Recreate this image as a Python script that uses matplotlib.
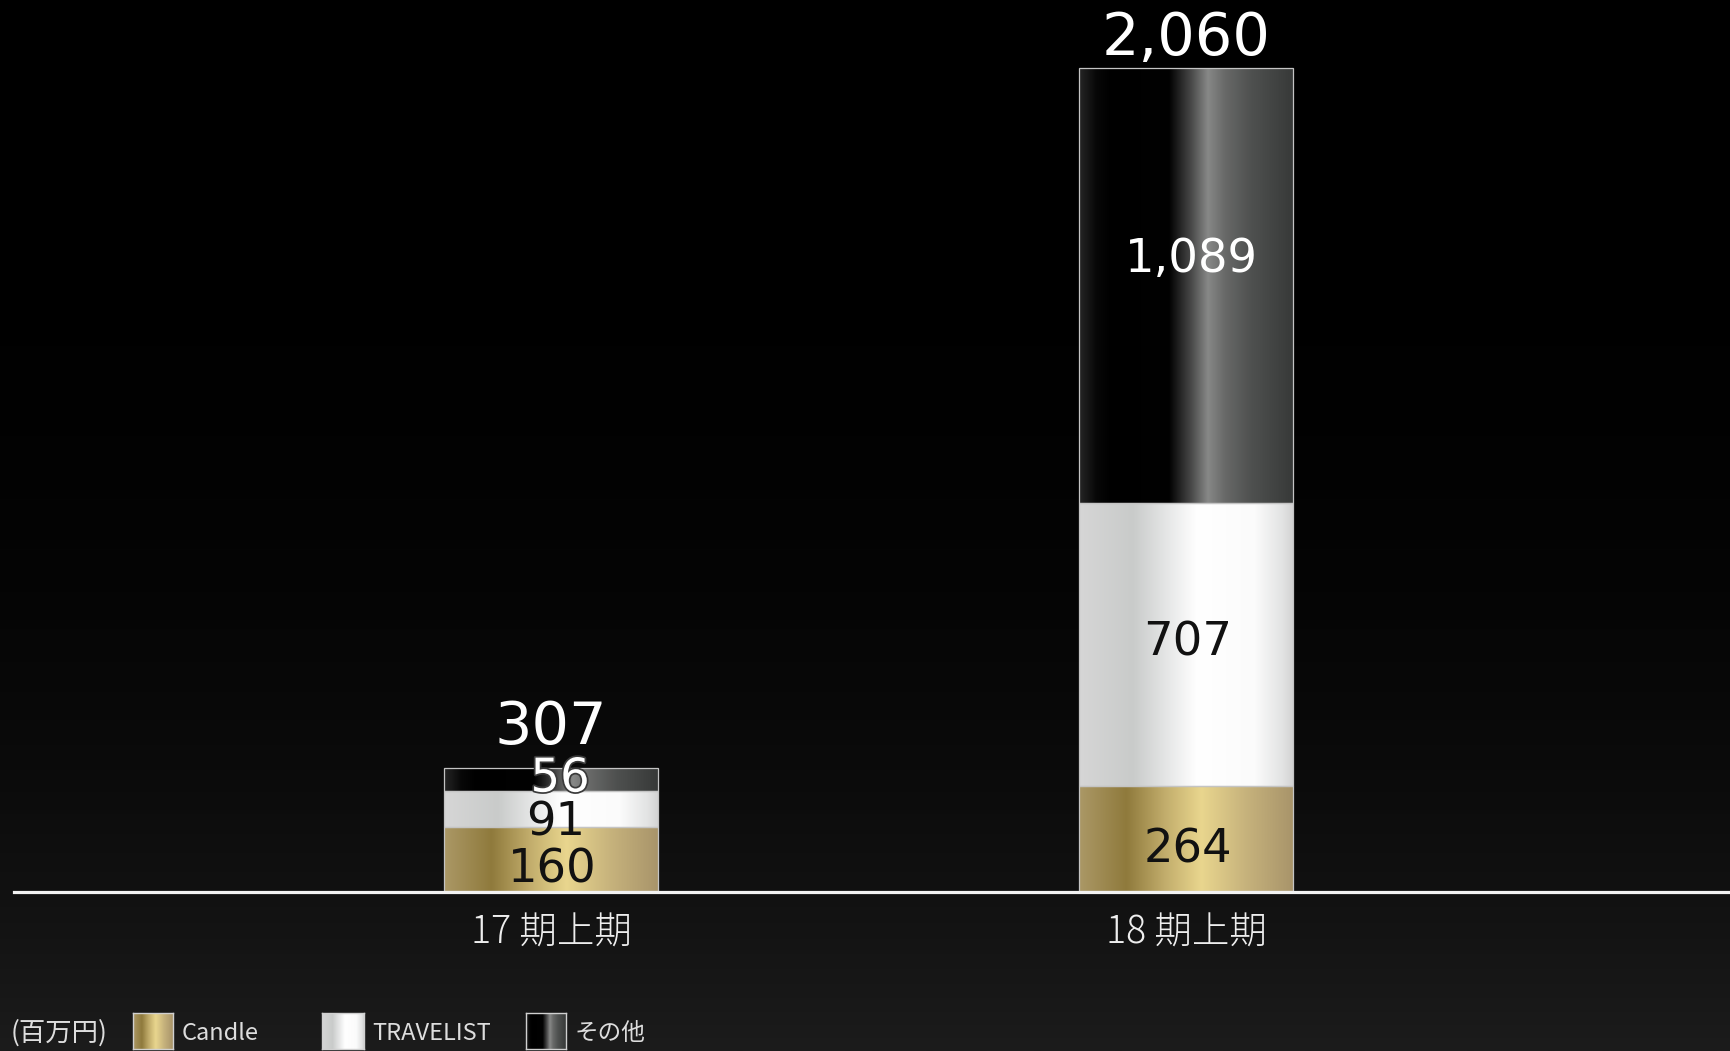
import numpy as np
import matplotlib
matplotlib.use("Agg")
import matplotlib.pyplot as plt
import matplotlib.patheffects as pe
from matplotlib.colors import LinearSegmentedColormap
from matplotlib.transforms import blended_transform_factory

# ---- data (百万円) ----
periods = ["17 期上期", "18 期上期"]
series_names = ["Candle", "TRAVELIST", "その他"]
candle = [160, 264]
travelist = [91, 707]
other = [56, 1089]
totals = [307, 2060]
unit_label = "(百万円)"

W, H = 1731, 1051
fig = plt.figure(figsize=(W / 100, H / 100), dpi=100)
fig.patch.set_facecolor("black")

CJK = ["Noto Sans CJK JP", "DejaVu Sans"]
NUM = ["DejaVu Sans"]

# ---- background: black at the top fading to dark grey at the bottom ----
t = np.linspace(0, 1, H)
shade = (28 * t ** 3) / 255.0
bg_img = np.repeat(shade[:, None, None], 3, axis=2)
bg = fig.add_axes([0, 0, 1, 1], zorder=-10)
bg.imshow(bg_img, aspect="auto", extent=(0, 1, 0, 1), interpolation="bilinear")
bg.set_axis_off()

# ---- metallic gradients for the three series ----
gold = LinearSegmentedColormap.from_list("gold", [
    (0.00, "#ab9866"), (0.22, "#8f7a3c"), (0.40, "#c2ad6c"),
    (0.57, "#e9d68e"), (0.78, "#c6b27c"), (1.00, "#a8946a")])
silver = LinearSegmentedColormap.from_list("silver", [
    (0.00, "#d6d6d6"), (0.25, "#c9cbca"), (0.40, "#e4e5e5"),
    (0.55, "#ffffff"), (0.82, "#fbfbfb"), (0.95, "#e2e3e3"), (1.00, "#d2d2d2")])
onyx = LinearSegmentedColormap.from_list("onyx", [
    (0.00, "#262626"), (0.08, "#070707"), (0.15, "#000000"),
    (0.42, "#020202"), (0.52, "#474747"), (0.60, "#878887"),
    (0.68, "#686968"), (0.80, "#4f5150"), (1.00, "#373938")])
cmaps = [gold, silver, onyx]
grad = np.linspace(0, 1, 256)[None, :]

# ---- main axes ----
ax = fig.add_axes([14 / W, 160 / H, 1 - 14 / W, 891 / H])
ax.set_axis_off()
ax.patch.set_alpha(0)

x = np.arange(len(periods))
bar_w = 0.337
stack = [candle, travelist, other]
bottoms = np.zeros(len(periods))

# per-label nudges in pixels (dx, dy)
nudges = {
    (0, 0): (1, -23), (0, 1): (5, -27), (0, 2): (9, -12),
    (1, 0): (2, -24), (1, 1): (2, -11), (1, 2): (5, 13),
}
text_colors = ["#111111", "#111111", "white"]

for s, (vals, cmap) in enumerate(zip(stack, cmaps)):
    bars = ax.bar(x, vals, bar_w, bottom=bottoms, facecolor="none",
                  edgecolor="#c4c4c4", linewidth=0.9, zorder=3)
    for i, patch in enumerate(bars.patches):
        x0, y0 = patch.get_x(), patch.get_y()
        im = ax.imshow(grad, cmap=cmap, aspect="auto",
                       extent=(x0, x0 + patch.get_width(), y0, y0 + patch.get_height()),
                       interpolation="bilinear", zorder=2)
        im.set_clip_path(patch)
        dx, dy = nudges[(i, s)]
        txt = ax.annotate(f"{vals[i]:,}", xy=(x[i], bottoms[i] + vals[i] / 2),
                          xytext=(dx, dy), textcoords="offset pixels",
                          ha="center", va="baseline", fontsize=33.5,
                          family=NUM, color=text_colors[s], zorder=5)
        if s == 2 and vals[i] < 100:
            txt.set_path_effects([pe.withStroke(linewidth=2.5, foreground="#3a3a3a")])
    bottoms = bottoms + np.array(vals)

# totals above the stacks
total_offsets = [24, 13]
for i, tot in enumerate(totals):
    ax.annotate(f"{tot:,}", xy=(x[i], tot), xytext=(0, total_offsets[i]),
                textcoords="offset pixels", ha="center", va="baseline",
                fontsize=42.5, family=NUM, color="white", zorder=5)

ax.set_xlim(-0.8457, 1.858)
ax.set_ylim(0, 2230)

# baseline
ax.axhline(-3.6, color="#f2f2f2", linewidth=2.3, clip_on=False, zorder=4)

# category labels
trans = blended_transform_factory(ax.transData, fig.transFigure)
for i, p in enumerate(periods):
    ax.text(x[i], 1 - 933 / H, p, transform=trans, ha="center", va="center",
            fontsize=27, family=CJK, color="#eeeeee", fontweight="light")

# ---- legend row ----
fig.text(11 / W, 1 - 1033 / H, unit_label, ha="left", va="center",
         fontsize=19, family=CJK, color="#dddddd")
swatches = [(133, 173), (322, 364), (526, 566)]
label_x = [182, 372, 575]
for (sx0, sx1), cmap, name, lx in zip(swatches, cmaps, series_names, label_x):
    sax = fig.add_axes([sx0 / W, 1 - 1049 / H, (sx1 - sx0) / W, 36 / H])
    sax.imshow(grad, cmap=cmap, aspect="auto", interpolation="bilinear")
    sax.set_xticks([])
    sax.set_yticks([])
    for sp in sax.spines.values():
        sp.set_color("#d0d0d0")
        sp.set_linewidth(1.0)
    fig.text(lx / W, 1 - 1033 / H, name, ha="left", va="center",
             fontsize=17, family=CJK, color="#dddddd")

fig.savefig("out.png", dpi=100, facecolor=fig.get_facecolor())
